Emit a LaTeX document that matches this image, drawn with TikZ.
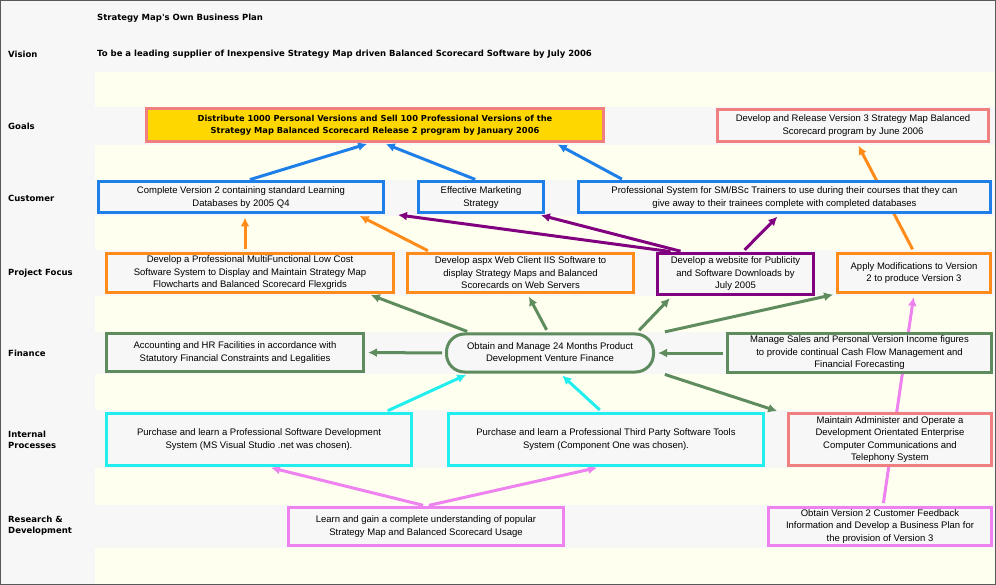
\documentclass[tikz,border=0pt]{standalone}
\usepackage{fontspec}
\setmainfont{Liberation Sans}
\newfontfamily\labfont{DejaVu Sans}
\usetikzlibrary{positioning, arrows.meta}
\pgfdeclarelayer{bottom}
\pgfdeclarelayer{background}
\pgfsetlayers{bottom,background,main}
\definecolor{bgyel}{HTML}{FFFFF0}
\definecolor{band}{HTML}{F7F7F7}
\definecolor{cblue}{HTML}{1E7FE8}
\definecolor{corange}{HTML}{FF8C1A}
\definecolor{cpurple}{HTML}{800080}
\definecolor{cgreen}{HTML}{5E8C5E}
\definecolor{ccyan}{HTML}{22EEEE}
\definecolor{csalmon}{HTML}{F08080}
\definecolor{cpink}{HTML}{EE82EE}
\definecolor{cgold}{HTML}{FFD700}
\tikzset{
	every node/.append style={
		font={\fontsize{9.5}{12.5}\selectfont},
	},
	rowlbl/.append style={
		anchor=west,
		align=left,
		inner sep=0pt,
		font={\labfont\bfseries\fontsize{8.5}{11}\selectfont}
	},
	goal/.append style={
		draw,
		line width=3pt,
		fill=band,
		align=center,
		inner sep=1pt,
	},
	link/.append style={
		-{Latex[length=9pt,width=9pt]},
		line width=3pt,
		shorten >=3pt,
		shorten <=3pt
	}
}
\begin{document}
\begin{tikzpicture}[x=1pt,y=-1pt]
		\useasboundingbox (0,0) rectangle (996,585);
		% background
		\begin{pgfonlayer}{bottom}
		\fill[band] (0,0) rectangle (996,585);
		\fill[bgyel] (95,72) rectangle (996,585);
		\foreach \ya/\yb in {107/145,180/216,250/296,332/374,410/468,505/548}
			\fill[band] (95,\ya) rectangle (996,\yb);
		\draw[gray!70!black, line width=1.5pt] (0,0) rectangle (996,585);
		\end{pgfonlayer}
		
		\node(title)[rowlbl] at (97,18){Strategy Map's Own Business Plan};
		\node(vision)[rowlbl] at (8,54){Vision};
		\node(visiontxt)[rowlbl] at (97,54){To be a leading supplier of Inexpensive Strategy Map driven Balanced Scorecard Software by July 2006};
		\node(lgoals)[rowlbl] at (8,126){Goals};
		\node(lcust)[rowlbl] at (8,198){Customer};
		\node(lproj)[rowlbl] at (8,273){Project Focus};
		\node(lfin)[rowlbl] at (8,353){Finance};
		\node(lint)[rowlbl] at (8,440){Internal\\Processes};
		\node(lrnd)[rowlbl] at (8,526){Research \&\\Development};
		
		% boxes
		\node(dist)[goal, draw=csalmon, fill=cgold, minimum width=457, minimum height=33, font={\labfont\bfseries\fontsize{8.3}{12}\selectfont}] at (375,125){Distribute 1000 Personal Versions and Sell 100 Professional Versions of the\\Strategy Map Balanced Scorecard Release 2 program by January 2006};
		\node(release)[goal, draw=csalmon, minimum width=271, minimum height=32] at (853,125.5){Develop and Release Version 3 Strategy Map Balanced\\Scorecard program by June 2006};
		\node(complete)[goal, draw=cblue, minimum width=285, minimum height=31] at (241,197.5){Complete Version 2 containing standard Learning\\Databases by 2005 Q4};
		\node(marketing)[goal, draw=cblue, minimum width=125, minimum height=31] at (481,197.5){Effective Marketing\\Strategy};
		\node(trainers)[goal, draw=cblue, minimum width=412, minimum height=31] at (784.5,197.5){Professional System for SM/BSc Trainers to use during their courses that they can\\give away to their trainees complete with completed databases};
		\node(lowcost)[goal, draw=corange, minimum width=287, minimum height=39] at (250,273){Develop a Professional MultiFunctional Low Cost\\Software System to Display and Maintain Strategy Map\\Flowcharts and Balanced Scorecard Flexgrids};
		\node(aspx)[goal, draw=corange, minimum width=226, minimum height=39] at (520.5,273){Develop aspx Web Client IIS Software to\\display Strategy Maps and Balanced\\Scorecards on Web Servers};
		\node(website)[goal, draw=cpurple, minimum width=156, minimum height=41] at (735.5,274){Develop a website for Publicity\\and Software Downloads by\\July 2005};
		\node(apply)[goal, draw=corange, minimum width=153, minimum height=39] at (914,273){Apply Modifications to Version\\2 to produce Version 3};
		\node(accounting)[goal, draw=cgreen, minimum width=257, minimum height=38] at (235,352.5){Accounting and HR Facilities in accordance with\\Statutory Financial Constraints and Legalities};
		\node(venture)[goal, draw=cgreen, rounded corners=18pt, minimum width=207, minimum height=38] at (550,353){Obtain and Manage 24 Months Product\\Development Venture Finance};
		\node(sales)[goal, draw=cgreen, minimum width=264, minimum height=38] at (859.5,353){Manage Sales and Personal Version Income figures\\to provide continual Cash Flow Management and\\Financial Forecasting};
		\node(vstudio)[goal, draw=ccyan, minimum width=305, minimum height=52] at (259,439.5){Purchase and learn a Professional Software Development\\System (MS Visual Studio .net was chosen).};
		\node(thirdparty)[goal, draw=ccyan, minimum width=315, minimum height=52] at (606,439.5){Purchase and learn a Professional Third Party Software Tools\\System (Component One was chosen).};
		\node(telephony)[goal, draw=csalmon, minimum width=203, minimum height=52] at (890,439.5){Maintain Administer and Operate a\\Development Orientated Enterprise\\Computer Communications and\\Telephony System};
		\node(learn)[goal, draw=cpink, minimum width=275, minimum height=38] at (426,526.5){Learn and gain a complete understanding of popular\\Strategy Map and Balanced Scorecard Usage};
		\node(feedback)[goal, draw=cpink, minimum width=223, minimum height=38] at (880,526.5){Obtain Version 2 Customer Feedback\\Information and Develop a Business Plan for\\the provision of Version 3};
		
		% connectors (behind boxes)
		\begin{pgfonlayer}{background}
		\draw[link, cblue] ([xshift=6]complete.north) -- ([xshift=-5]dist.south);
		\draw[link, cblue] ([xshift=-3]marketing.north) -- ([xshift=8]dist.south);
		\draw[link, cblue] ([xshift=-160]trainers.north) -- ([xshift=-50]dist.south east);
		
		\draw[link, corange] ([xshift=-5]lowcost.north) -- ([xshift=4]complete.south);
		\draw[link, corange] ([xshift=-90]aspx.north) -- ([xshift=-28]complete.south east);
		\draw[link, corange] (apply.north) -- ([xshift=4]release.south);
		
		\draw[link, cpurple] ([xshift=-62]website.north) -- ([xshift=10]complete.south east);
		\draw[link, cpurple] ([xshift=-52]website.north) -- ([xshift=-7]marketing.south east);
		\draw[link, cpurple] ([xshift=7]website.north) -- ([xshift=-5]trainers.south);
		
		\draw[link, cgreen] ([xshift=25]venture.north west) -- ([xshift=-27]lowcost.south east);
		\draw[link, cgreen] ([xshift=-2]venture.north) -- ([xshift=7]aspx.south);
		\draw[link, cgreen] ([xshift=-18]venture.north east) -- ([xshift=16]website.south west);
		\draw[link, cgreen] ([xshift=7]venture.north east) -- (apply.south west);
		\draw[link, cgreen] (venture.west) -- (accounting.east);
		\draw[link, cgreen] (sales.west) -- (venture.east);
		\draw[link, cgreen] ([xshift=7]venture.south east) -- ([xshift=-7]telephony.north west);
		
		\draw[link, ccyan] ([xshift=-28]vstudio.north east) -- ([xshift=24]venture.south west);
		\draw[link, ccyan] ([xshift=-4]thirdparty.north) -- ([xshift=10]venture.south);
		
		\draw[link, cpink] (learn.north) -- ([xshift=9]vstudio.south);
		\draw[link, cpink] (learn.north) -- ([xshift=-6]thirdparty.south);
		\draw[link, cpink] ([xshift=3]feedback.north) -- (apply.south);
		\end{pgfonlayer}
		\end{tikzpicture}
\end{document}
